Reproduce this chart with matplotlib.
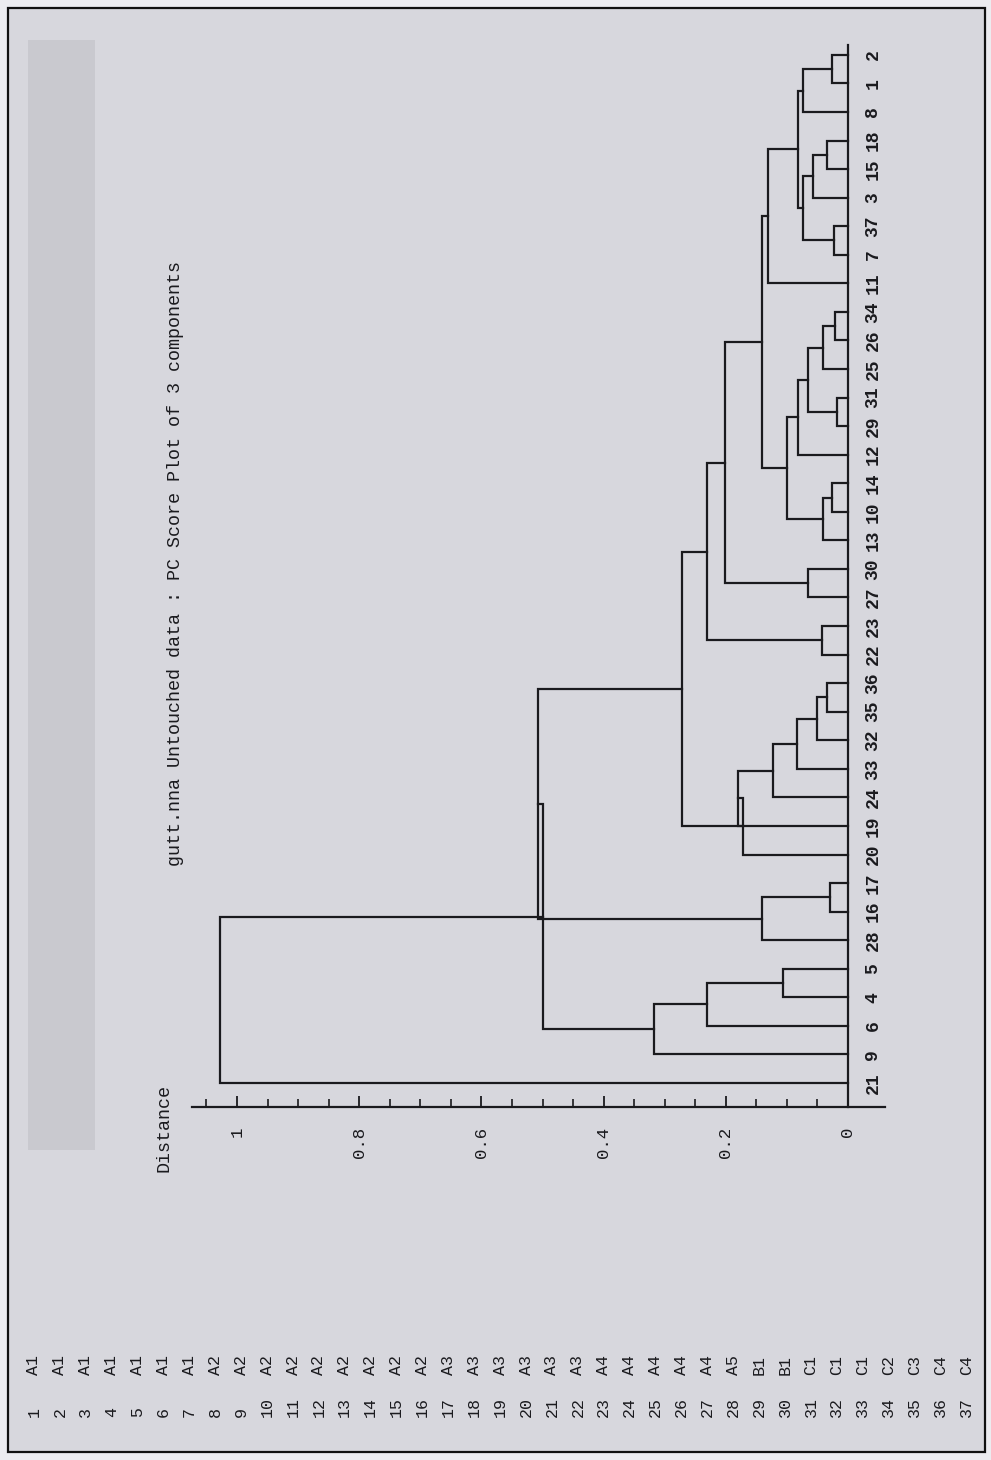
import matplotlib
matplotlib.use("Agg")
import matplotlib.pyplot as plt
from matplotlib.patches import Rectangle
from matplotlib.ticker import FixedLocator, FixedFormatter

# ---------------- data ----------------
title = "gutt.nna Untouched data : PC Score Plot of 3 components"
axis_label = "Distance"

# leaf order along the dendrogram (from the distance axis upward)
leaf_order = [21, 9, 6, 4, 5, 28, 16, 17, 20, 19, 24, 33, 32, 35, 36, 22, 23,
              27, 30, 13, 10, 14, 12, 29, 31, 25, 26, 34, 11, 7, 37, 3, 15, 18,
              8, 1, 2]

# merges: (child a, child b, distance); ints = samples, 'cK' = K-th merge
merge_a = [4, 6, 9, 16, 28, 35, 32, 33, 24, 19, 20, 22, 27, 10, 13, 29, 26, 25,
           'c15', 12, 'c14', 7, 15, 3, 'c21', 1, 8, 'c24', 11, 'c20', 'c12',
           'c11', 'c10', 'c4', 'c2', 21]
merge_b = [5, 'c0', 'c1', 17, 'c3', 36, 'c5', 'c6', 'c7', 'c8', 'c9', 23, 30,
           14, 'c13', 31, 34, 'c16', 'c17', 'c18', 'c19', 37, 18, 'c22', 'c23',
           2, 'c25', 'c26', 'c27', 'c28', 'c29', 'c30', 'c31', 'c32', 'c33',
           'c34']
merge_dist = [0.107, 0.230, 0.318, 0.030, 0.141, 0.035, 0.050, 0.084, 0.123,
              0.180, 0.172, 0.043, 0.066, 0.026, 0.041, 0.018, 0.021, 0.041,
              0.065, 0.082, 0.100, 0.023, 0.034, 0.057, 0.074, 0.026, 0.074,
              0.082, 0.131, 0.141, 0.201, 0.231, 0.272, 0.507, 0.499, 1.028]

major_ticks = [0.0, 0.2, 0.4, 0.6, 0.8, 1.0]
major_labels = ["0", "0.2", "0.4", "0.6", "0.8", "1"]
minor_ticks = [0.05, 0.10, 0.15, 0.25, 0.30, 0.35, 0.45, 0.50, 0.55, 0.65,
               0.70, 0.75, 0.85, 0.90, 0.95, 1.05]

sample_ids = list(range(1, 38))
sample_groups = (["A1"] * 7 + ["A2"] * 9 + ["A3"] * 6 + ["A4"] * 5 + ["A5"] +
                 ["B1"] * 2 + ["C1"] * 3 + ["C2", "C3", "C4", "C4"])

# ---------------- style / layout ----------------
W, H = 991, 1460
ink = "#1a1a1e"
mono = ["Liberation Mono", "DejaVu Sans Mono"]

fig = plt.figure(figsize=(W / 100, H / 100), dpi=100)
fig.patch.set_facecolor("#ececf0")

def fx(px):
    return px / W

def fy(py):
    return 1 - py / H

# scanned page background + frame (drawn in a background axes)
bg = fig.add_axes([0, 0, 1, 1], zorder=-10)
bg.set_xlim(0, W)
bg.set_ylim(H, 0)
bg.axis("off")
bg.add_patch(Rectangle((8, 8), 977, 1444, facecolor="#d7d7dd",
                       edgecolor="#111111", lw=1.6))
bg.add_patch(Rectangle((28, 40), 67, 1110, facecolor="#c9c9cf",
                       edgecolor="none"))

# axes: distance runs right-to-left, leaves bottom-to-top
ax_left, ax_right, ax_top, ax_bot = 192, 885, 40, 1107
ax = fig.add_axes([fx(ax_left), fy(ax_bot), fx(ax_right - ax_left),
                   (ax_bot - ax_top) / H], zorder=1)
ax.set_facecolor("none")
zero_px, unit_px = 848, 611
leaf0_px, step_px = 1083, 28.56
ax.set_xlim((zero_px - ax_left) / unit_px, (zero_px - ax_right) / unit_px)
ax.set_ylim((leaf0_px - ax_bot) / step_px, (leaf0_px - ax_top) / step_px)

for s in ["top", "left", "right"]:
    ax.spines[s].set_visible(False)
ax.spines["bottom"].set_color(ink)
ax.spines["bottom"].set_linewidth(1.6)
ax.yaxis.set_visible(False)
ax.xaxis.set_major_locator(FixedLocator(major_ticks))
ax.xaxis.set_major_formatter(FixedFormatter(major_labels))
ax.xaxis.set_minor_locator(FixedLocator(minor_ticks))
ax.tick_params(axis="x", which="major", direction="in", length=8, width=1.3,
               color=ink, labelrotation=90, pad=14, labelsize=12.5,
               labelcolor=ink)
ax.tick_params(axis="x", which="minor", direction="in", length=6, width=1.2,
               color=ink)
for lab in ax.get_xticklabels():
    lab.set_fontfamily(mono)

# baseline of the leaves
n = len(leaf_order)
ax.plot([0, 0], [ax.get_ylim()[0], n - 1 + 0.35], color=ink, lw=1.6,
        clip_on=False)

# dendrogram links
pos = {leaf: i for i, leaf in enumerate(leaf_order)}
node_y, node_h = {}, {}

def get(c):
    if isinstance(c, str):
        return node_y[c], node_h[c]
    return pos[c], 0.0

for k, (a, b, h) in enumerate(zip(merge_a, merge_b, merge_dist)):
    ya, ha = get(a)
    yb, hb = get(b)
    ax.plot([ha, h, h, hb], [ya, ya, yb, yb], color=ink, lw=1.6,
            clip_on=False, solid_joinstyle="miter")
    node_y[f"c{k}"] = (ya + yb) / 2
    node_h[f"c{k}"] = h

# leaf labels
for leaf, i in pos.items():
    ax.annotate(str(leaf), xy=(0, i), xytext=(18, 0),
                textcoords="offset points", rotation=90, ha="center",
                va="center", fontsize=13, family=mono, color=ink,
                fontweight="bold")

# title and axis label
fig.text(fx(176), fy(866), title, rotation=90, ha="center", va="bottom",
         fontsize=13.2, family=mono, color=ink)
fig.text(fx(164), fy(1172), axis_label, rotation=90, ha="center",
         va="bottom", fontsize=13.2, family=mono, color=ink)

# sample legend list at the bottom
for j, (sid, grp) in enumerate(zip(sample_ids, sample_groups)):
    x = fx(34 + 25.9 * j)
    fig.text(x, fy(1417), str(sid), rotation=90, ha="center", va="bottom",
             fontsize=12, family=mono, color=ink)
    fig.text(x, fy(1375), grp, rotation=90, ha="center", va="bottom",
             fontsize=12, family=mono, color=ink)

fig.savefig("out.png", dpi=100, facecolor=fig.get_facecolor())
